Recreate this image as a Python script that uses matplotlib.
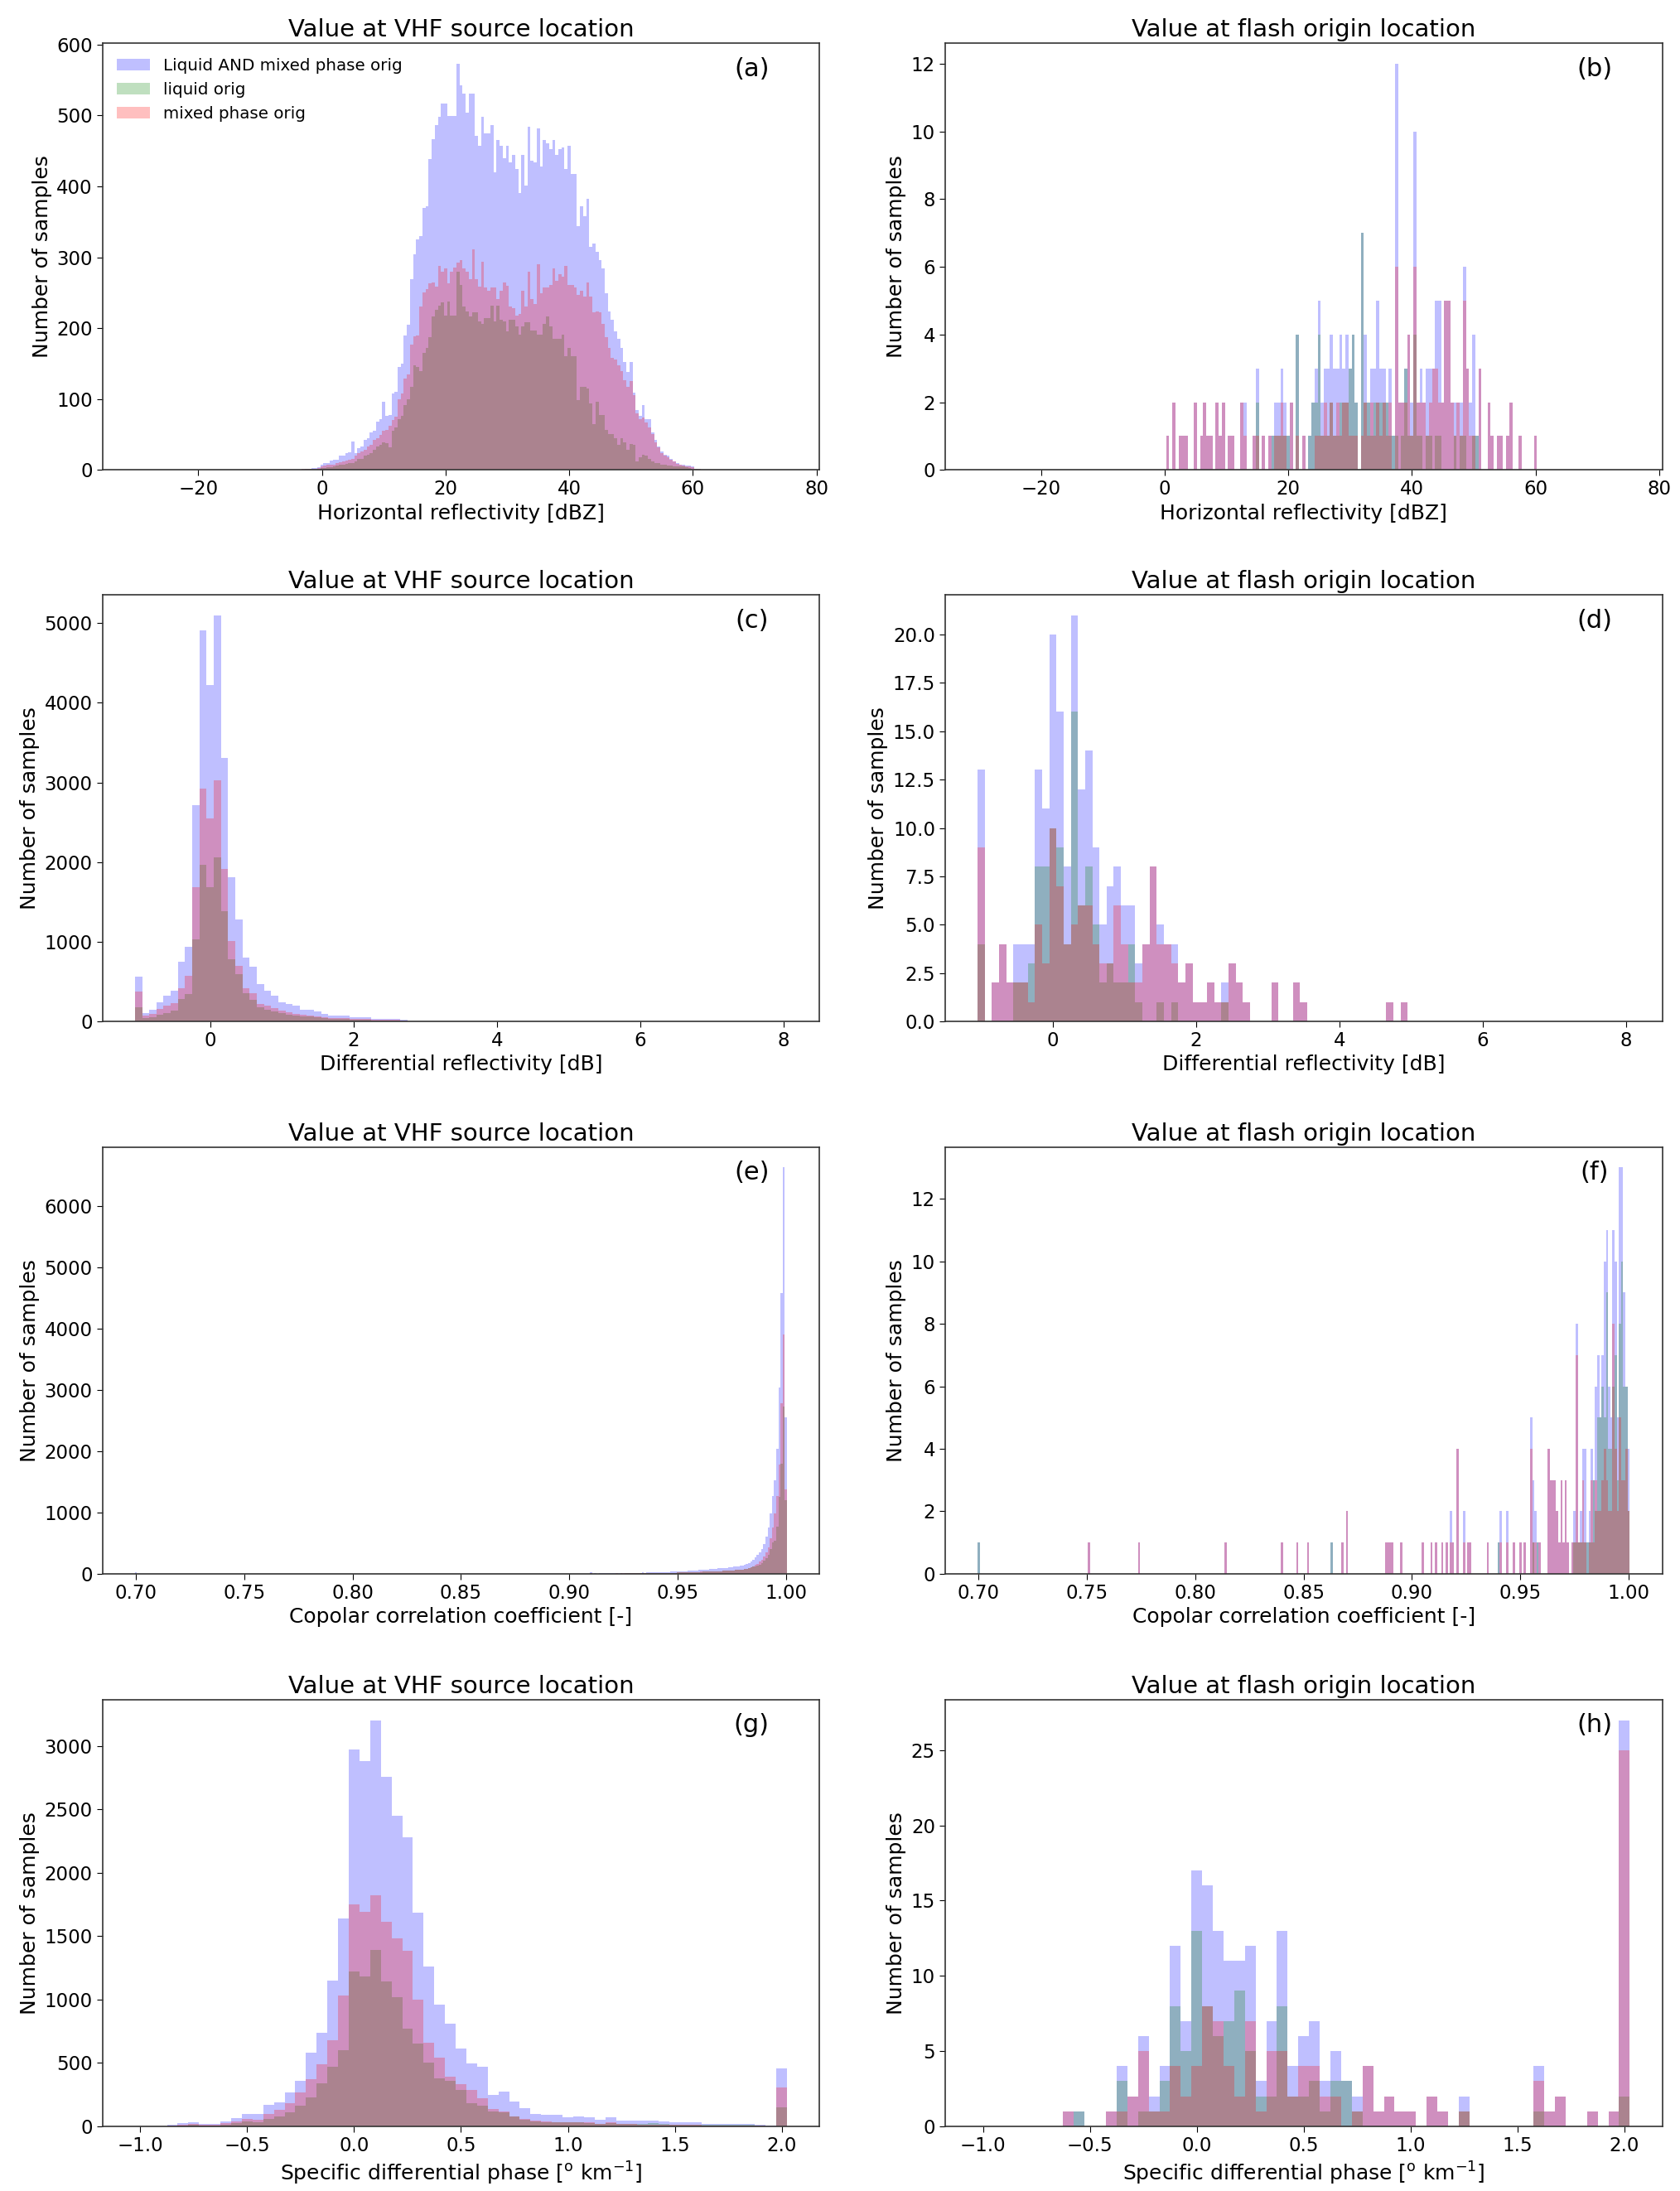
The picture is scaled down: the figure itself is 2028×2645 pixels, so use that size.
import numpy as np
import matplotlib
matplotlib.use("Agg")
import matplotlib.pyplot as plt

# ---------------- data ----------------
series_labels = ['Liquid AND mixed phase orig', 'liquid orig', 'mixed phase orig']
series_colors = ['blue', 'green', 'red']

# (a) Horizontal reflectivity at VHF source, 0.5 dBZ bins, centres from -3.0
a_start, a_step = -3.0, 0.5
a_total = [1,2,2,3,3,4, 8,10,10,13,14,15, 20,20,24,25,40,24, 31,33,43,45,53,55,
           68,72,96,76,78,108, 110,145,150,190,205,269, 304,325,330,370,372,438,
           467,486,498,517,517,499, 499,499,573,543,531,504, 531,531,471,457,498,475,
           475,486,420,465,457,440, 457,434,444,424,391,444, 401,484,436,434,482,428,
           465,461,453,465,444,453, 455,424,457,418,418,344, 372,358,383,315,319,308,
           296,284,249,224,212,195, 185,172,152,138,152,109, 84,76,92,72,72,53,
           43,33,26,22,20,16, 12,10,8,7,6,6, 5,2,1]
a_liquid = [0,1,1,1,1,1, 3,3,4,4,5,6, 8,8,9,10,10,12, 16,16,20,22,24,28,
            33,35,39,38,32,55, 60,72,76,92,100,117, 148,145,140,165,172,187,
            216,226,232,236,218,238, 218,218,280,261,230,224, 216,222,222,210,206,214,
            214,232,210,232,212,210, 195,212,212,203,191,203, 208,208,197,197,191,191,
            206,216,203,185,185,185, 191,160,172,160,160,99, 117,117,115,94,65,96,
            78,78,57,51,51,45, 35,45,39,28,37,35, 12,18,22,20,16,12,
            10,10,7,7,6,6, 5,5,5,5,4,3, 2,1,0]
a_mixed = [1,1,1,2,2,3, 5,6,7,8,8,10, 11,12,13,15,16,20, 24,26,28,33,36,42,
           45,50,55,57,62,70, 75,100,108,129,135,177, 189,190,230,250,255,263,
           265,259,288,280,284,263, 280,285,292,296,284,280, 269,311,269,259,294,257,
           253,257,257,241,253,265, 260,230,228,218,220,253, 230,280,241,234,290,249,
           257,257,261,284,267,276, 273,288,261,261,257,247, 253,245,265,245,222,224,
           222,206,187,172,158,156, 148,140,127,117,125,105, 80,72,74,67,60,51,
           39,32,24,20,18,14, 12,9,8,6,5,5, 4,2,1]

# (b) Horizontal reflectivity at flash origin (sparse bins)
b_centers = [0.5,1.5,2.5,3.0,3.5,5.0,6.0,6.5,7.0,7.5,8.5,9.0,9.5,10.5,11.0,12.5,13.0,14.5,
             15.0,16.0,17.0,17.5,18.0,18.5,19.0,19.5,20.0,20.5,21.5,22.5,23.5,24.0,24.5,
             25.0,25.5,26.0,26.5,27.0,27.5,28.0,28.5,29.0,29.5,30.0,30.5,31.0,32.0,32.5,
             33.0,33.5,34.0,34.5,35.0,35.5,36.0,36.5,37.0,37.5,38.0,38.5,39.0,39.5,40.0,
             40.5,41.0,41.5,42.0,42.5,43.0,43.5,44.0,44.5,45.0,45.5,46.0,46.5,47.0,47.5,
             48.0,48.5,49.0,49.5,50.0,50.5,51.0,52.5,53.0,54.0,54.5,55.5,56.0,57.5,60.0]
b_total = [1,2,1,1,1,2,1,2,1,1,2,1,2,1,1,2,2,1,
           3,1,1,1,2,2,3,2,1,2,4,1,1,2,3,
           5,2,3,3,4,3,3,4,3,4,3,4,2,7,4,
           2,3,3,5,3,3,2,3,1,12,2,2,3,4,2,
           10,2,3,2,3,3,3,5,5,2,5,5,2,2,2,
           2,6,3,2,4,1,3,2,1,1,1,1,2,1,1]
b_liquid = [0,0,0,0,0,0,0,0,0,0,0,0,0,0,0,0,0,0,
            2,0,0,1,1,1,1,1,1,0,4,0,1,2,2,
            4,1,1,1,2,1,1,2,2,2,3,4,2,7,2,
            2,1,2,2,2,2,2,1,1,1,0,1,3,1,1,
            4,1,1,0,1,1,0,1,1,0,0,0,0,1,0,
            1,1,0,0,1,1,0,0,0,0,0,0,0,0,0]
b_mixed = [1,2,1,1,1,2,1,2,1,1,2,1,2,1,1,2,1,1,
           1,1,1,0,1,1,2,1,0,2,1,1,0,0,1,
           1,1,2,1,2,1,2,1,2,2,1,1,1,1,2,
           1,2,1,2,1,2,1,2,0,6,2,2,2,4,1,
           6,2,2,2,1,2,3,3,2,2,5,5,2,1,2,
           1,5,3,1,1,0,3,2,1,1,1,1,2,1,1]

# (c) Differential reflectivity at VHF source, 0.1 dB bins, centres from -1.0
c_start, c_step = -1.0, 0.1
c_total = [563,110,150,240,320,390,750,935,2710,4910,4220,5100,3310,1810,1280,805,685,470,
           390,320,245,222,200,150,150,124,94,73,73,73,51,51,51,30,30,30,30,20,3]
c_liquid = [179,40,50,80,100,140,280,340,1032,1971,1681,2065,1382,785,593,358,273,179,
            150,125,100,85,75,60,60,50,40,30,30,28,22,20,18,12,10,8,8,5,1]
c_mixed = [371,70,90,160,200,230,420,570,1681,2922,2547,3029,1915,1011,700,422,358,222,
           200,166,137,115,94,81,73,64,51,38,38,38,30,30,30,21,21,21,21,15,2]

# (d) Differential reflectivity at flash origin, 0.1 dB bins, centres from -1.0
d_start, d_step = -1.0, 0.1
d_total = [13,0,2,4,2,4,4,4,13,11,20,16,8,21,12,14,9,5,7,8,6,6,3,4,8,5,4,4,2,3,
           1,1,2,1,2,3,2,1,0,0,0,2,0,0,2,1,0,0,0,0,0,0,0,0,0,0,0,1,0,1]
d_liquid = [4,0,0,0,0,2,2,3,8,8,10,9,4,16,6,8,5,2,3,2,2,4,1,0,0,1,0,1,0,0,
            0,0,0,0,1,0,0,0,0,0,0,0,0,0,0,0,0,0,0,0,0,0,0,0,0,0,0,0,0,0]
d_mixed = [9,0,2,4,2,2,2,1,5,3,10,7,4,5,6,6,4,3,3,6,4,2,2,4,8,4,4,3,2,3,
           1,1,2,1,1,3,2,1,0,0,0,2,0,0,2,1,0,0,0,0,0,0,0,0,0,0,0,1,0,1]

# (e) Copolar correlation coefficient at VHF source, 0.001 bins, centres from 0.900
e_start, e_step = 0.900, 0.001
e_total = [2,3,2,3,4,3,4,5,4,5, 23,5,6,5,7,6,8,7,8,9, 10,9,11,10,12,11,13,12,14,15,
           16,17,16,18,19,18,20,22,21,23, 25,24,26,28,27,30,31,33,34,36,
           40,41,43,44,46,48,50,52,55,57, 63,65,68,70,72,75,78,80,84,88,
           92,95,98,100,105,110,115,120,125,130, 140,150,160,177,206,235,263,303,349,406,
           492,607,750,980,1265,1520,2040,3040,4580,6630,2560]
e_liquid = [1,1,1,1,2,1,2,2,2,2, 12,2,3,2,3,3,4,3,4,4, 5,4,5,5,6,5,6,6,7,7,
            8,8,8,9,9,9,10,11,10,11, 12,12,13,14,13,15,15,16,17,18,
            20,20,21,22,23,24,25,26,27,28, 31,32,34,35,36,37,39,40,42,44,
            46,47,49,50,52,55,57,60,62,64, 70,75,80,87,103,117,120,137,154,171,
            212,258,315,402,515,540,775,1260,1800,2730,1200]
e_mixed = [1,2,1,2,2,2,2,3,2,3, 10,3,3,3,4,3,4,4,4,5, 5,5,6,5,6,6,7,6,7,8,
           8,9,8,9,10,9,10,11,11,12, 13,12,13,14,14,15,16,17,17,18,
           20,21,22,22,23,24,25,26,28,29, 32,33,34,35,36,38,39,40,42,44,
           46,48,49,50,53,55,58,60,63,66, 70,75,80,90,103,118,143,166,195,235,
           280,349,435,578,750,980,1265,1780,2780,3900,1380]
e_low_center = [0.700]
e_low_total = [20]
e_low_liquid = [15]
e_low_mixed = [5]

# (f) Copolar correlation coefficient at flash origin (sparse bins, in thousandths)
f_centers_milli = [700,751,774,814,840,847,852,863,868,870,888,889,890,891,895,905,909,911,914,916,
                   918,919,921,924,926,927,935,940,941,944,947,950,952,955,956,957,958,959,
                   963,964,965,966,967,968,969,970,971,972,974,975,976,977,978,979,980,981,982,
                   983,984,985,986,987,988,989,990,991,992,993,994,995,996,997,998,999,1000]
f_total = [1,1,1,1,1,1,1,1,1,2,1,1,1,1,1,1,1,1,1,1,
           2,1,4,2,1,1,1,1,2,2,1,1,1,5,3,2,1,1,
           4,3,3,3,2,1,3,1,3,1,1,2,8,1,2,4,4,1,2,
           4,3,6,7,5,7,10,11,6,5,11,10,5,13,13,9,6,4]
f_liquid = [1,0,0,0,0,0,0,1,0,0,0,0,0,0,0,0,0,0,0,0,
            0,0,0,0,0,0,0,1,0,0,0,0,0,0,1,0,1,0,
            0,0,0,0,0,0,0,0,0,0,0,1,1,1,1,1,1,1,1,
            1,3,2,5,5,6,5,9,4,4,6,7,3,8,10,6,6,2]
f_mixed = [0,1,1,1,1,1,1,0,1,2,1,1,1,1,1,1,1,1,1,1,
           1,1,4,1,1,1,1,0,1,1,1,1,1,4,1,1,0,1,
           4,3,3,3,2,1,3,1,3,1,1,1,7,1,1,3,1,0,1,
           3,1,3,2,2,3,4,3,2,2,8,4,2,5,3,3,4,2]

# (g) Specific differential phase at VHF source, 0.05 bins, centres from -0.85
g_start, g_step = -0.85, 0.05
g_total = [16,25,33,22,22,38,66,100,100,167,186,266,356,579,740,1146,1642,
           2970,2879,3203,2758,2451,2279,1684,1259,957,812,614,496,469,250,274,195,143,99,93,88,
           74,80,71,52,74,44,44,44,44,38,33,33,33,22,22,22,22,22,16,5,
           458]
g_liquid = [2,8,10,8,8,15,25,40,35,60,80,110,160,230,340,470,600,
            1220,1180,1390,1140,1020,770,650,500,380,360,290,180,160,120,110,75,55,40,35,35,
            30,30,28,20,25,20,20,20,25,18,15,15,12,10,10,10,12,14,8,2,
            150]
g_mixed = [5,15,20,15,15,25,40,60,50,100,130,180,265,375,490,680,1030,
           1750,1690,1820,1610,1480,1387,1000,660,540,390,330,290,225,140,120,80,60,45,40,35,
           30,35,30,20,35,20,20,15,15,15,12,12,10,8,8,8,8,6,6,2,
           305]

# (h) Specific differential phase at flash origin, 0.05 bins, centres from -0.60
h_start, h_step = -0.60, 0.05
h_total = [1,1,0,0,1,4,2,6,2,4,12,7,17,16,13,11,11,12,3,7,13,4,6,7,3,5,3,2,4,1,2,1,1,0,2,1,0,2,
           0,0,0,0,0,0,4,1,2,0,0,1,0,1,27]
h_liquid = [0,1,0,0,0,3,0,1,1,3,8,5,13,8,6,7,9,5,2,2,8,2,2,3,1,3,3,1,0,0,0,0,0,0,0,0,0,1,
            0,0,0,0,0,0,1,0,0,0,0,0,0,0,2]
h_mixed = [1,0,0,0,1,1,2,5,1,1,4,2,4,8,7,4,2,7,1,5,5,2,4,4,2,2,0,1,4,1,2,1,1,0,2,1,0,1,
           0,0,0,0,0,0,3,1,2,0,0,1,0,1,25]

titles_left = 'Value at VHF source location'
titles_right = 'Value at flash origin location'
xlabels = ['Horizontal reflectivity [dBZ]',
           'Differential reflectivity [dB]',
           'Copolar correlation coefficient [-]',
           r'Specific differential phase [$^{\mathrm{o}}$ km$^{-1}$]']
panel_tags = ['(a)', '(b)', '(c)', '(d)', '(e)', '(f)', '(g)', '(h)']

zh_xticks = [-20, 0, 20, 40, 60, 80]
zdr_xticks = [0, 2, 4, 6, 8]
rho_xticks = [0.70, 0.75, 0.80, 0.85, 0.90, 0.95, 1.00]
kdp_xticks = [-1.0, -0.5, 0.0, 0.5, 1.0, 1.5, 2.0]

# ---------------- plotting ----------------
plt.rcParams['font.family'] = ['DejaVu Sans']
fig = plt.figure(figsize=(20.28, 26.45), dpi=100)

col_left = [0.0609, 0.5625]
width = 0.4270
height = 0.1947
row_bottoms = [0.7855, 0.5338, 0.2817, 0.0295]

edges_zh = np.linspace(-30.25, 75.25, 212)
edges_zdr = np.linspace(-1.05, 8.05, 92)
edges_rho = np.linspace(0.6995, 1.0005, 302)
edges_kdp = np.linspace(-1.025, 2.025, 62)


def dense_centers(start, step, n):
    return start + step * np.arange(n)


def draw(ax, edges, centers, series):
    for vals, col, lab in zip(series, series_colors, series_labels):
        ax.hist(centers, bins=edges, weights=vals, color=col, alpha=0.25,
                label=lab, linewidth=0)


axes = []
for r in range(4):
    for c in range(2):
        ax = fig.add_axes([col_left[c], row_bottoms[r], width, height])
        axes.append(ax)

# row 1
draw(axes[0], edges_zh, dense_centers(a_start, a_step, len(a_total)), [a_total, a_liquid, a_mixed])
draw(axes[1], edges_zh, np.array(b_centers), [b_total, b_liquid, b_mixed])
# row 2
draw(axes[2], edges_zdr, dense_centers(c_start, c_step, len(c_total)), [c_total, c_liquid, c_mixed])
draw(axes[3], edges_zdr, dense_centers(d_start, d_step, len(d_total)), [d_total, d_liquid, d_mixed])
# row 3
e_centers = np.concatenate([np.array(e_low_center), dense_centers(e_start, e_step, len(e_total))])
draw(axes[4], edges_rho, e_centers,
     [e_low_total + e_total, e_low_liquid + e_liquid, e_low_mixed + e_mixed])
draw(axes[5], edges_rho, np.array(f_centers_milli) / 1000.0, [f_total, f_liquid, f_mixed])
# row 4
draw(axes[6], edges_kdp, dense_centers(g_start, g_step, len(g_total)), [g_total, g_liquid, g_mixed])
draw(axes[7], edges_kdp, dense_centers(h_start, h_step, len(h_total)), [h_total, h_liquid, h_mixed])

edges_rows = [edges_zh, edges_zdr, edges_rho, edges_kdp]
xticks_rows = [zh_xticks, zdr_xticks, rho_xticks, kdp_xticks]

for i, ax in enumerate(axes):
    r, c = divmod(i, 2)
    e = edges_rows[r]
    span = e[-1] - e[0]
    ax.set_xlim(e[0] - 0.05 * span, e[-1] + 0.05 * span)
    ax.set_xticks(xticks_rows[r])
    if r == 2:
        ax.set_xticklabels(['%.2f' % t for t in xticks_rows[r]])
    elif r == 3:
        ax.set_xticklabels([('%.1f' % t).replace('-', '\u2212') for t in xticks_rows[r]])
    ax.set_title(titles_left if c == 0 else titles_right, fontsize=21)
    ax.set_xlabel(xlabels[r], fontsize=18)
    ax.set_ylabel('Number of samples', fontsize=18)
    ax.tick_params(labelsize=16.5, length=5)
    for s in ax.spines.values():
        s.set_linewidth(1.2)
        s.set_color('#333333')
    ax.text(0.905, 0.94, panel_tags[i], transform=ax.transAxes, fontsize=22,
            ha='center', va='center')

axes[0].legend(loc='upper left', frameon=False, fontsize=14.3)

fig.savefig('out.png', dpi=100)
